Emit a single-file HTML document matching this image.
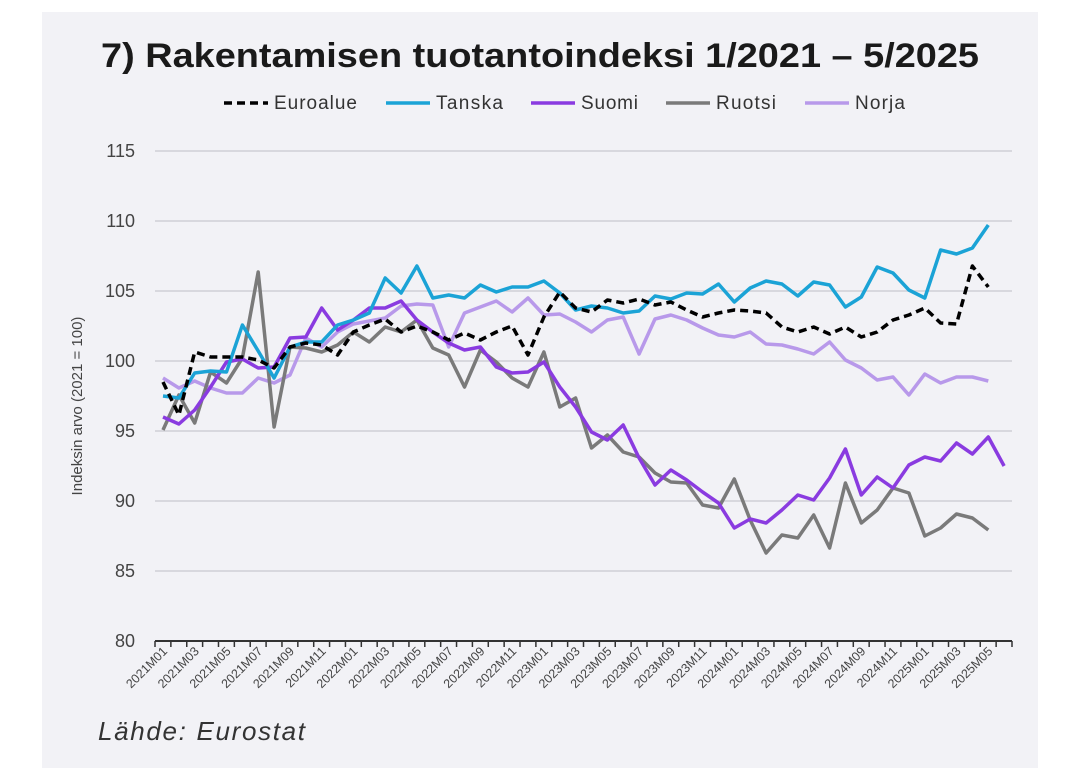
<!DOCTYPE html>
<html><head><meta charset="utf-8"><style>
html,body{margin:0;padding:0;background:#fff;}
svg{display:block;font-family:"Liberation Sans",sans-serif;}
</style></head><body>
<svg id="c" width="1073" height="781" viewBox="0 0 1073 781" xmlns="http://www.w3.org/2000/svg">
<rect x="0" y="0" width="1073" height="781" fill="#fff"/>
<rect x="42" y="12" width="996" height="756" fill="#f2f2f6"/>
<text x="101" y="67" textLength="878" lengthAdjust="spacingAndGlyphs" font-size="34" font-weight="bold" fill="#1a1a1a">7) Rakentamisen tuotantoindeksi 1/2021 – 5/2025</text>
<g font-size="19" fill="#333">
<line x1="224" y1="103" x2="268" y2="103" stroke="#000" stroke-width="3.5" stroke-dasharray="8,5"/><text x="274" y="109" textLength="83">Euroalue</text>
<line x1="386" y1="103" x2="430" y2="103" stroke="#1ba3d6" stroke-width="3.5"/><text x="436" y="109" textLength="67">Tanska</text>
<line x1="531" y1="103" x2="575" y2="103" stroke="#8a3be0" stroke-width="3.5"/><text x="581" y="109" textLength="57">Suomi</text>
<line x1="666" y1="103" x2="710" y2="103" stroke="#7a7a7a" stroke-width="3.5"/><text x="716" y="109" textLength="60">Ruotsi</text>
<line x1="805" y1="103" x2="849" y2="103" stroke="#b899ea" stroke-width="3.5"/><text x="855" y="109" textLength="50">Norja</text>
</g>
<g id="grid" stroke="#d0d0d6" stroke-width="1.5"></g>
<g id="ylab" font-size="18" fill="#444" text-anchor="end"></g>
<text transform="translate(82,406) rotate(-90)" text-anchor="middle" font-size="15" fill="#444">Indeksin arvo (2021 = 100)</text>
<line x1="155" y1="641" x2="1012" y2="641" stroke="#333" stroke-width="2"/>
<g id="ticks" stroke="#333" stroke-width="1.5"></g>
<g id="xlab" font-size="12.5" fill="#444" text-anchor="end"></g>
<g id="series" fill="none" stroke-width="3.5" stroke-linejoin="round"></g>
<text x="98" y="740" font-size="26" font-style="italic" fill="#333" textLength="207">Lähde: Eurostat</text>
</svg>
<script>
var NS="http://www.w3.org/2000/svg";
function el(t,a,p,txt){var e=document.createElementNS(NS,t);for(var k in a)e.setAttribute(k,a[k]);if(txt!=null)e.textContent=txt;document.getElementById(p).appendChild(e);return e;}
for(var v=85;v<=115;v+=5){var y=641-(v-80)*14;el("line",{x1:155,y1:y,x2:1012,y2:y},"grid");}
for(var v=80;v<=115;v+=5){var y=641-(v-80)*14;el("text",{x:135,y:y+6},"ylab",String(v));}
var step=857/54;
for(var i=0;i<=54;i++){var x=155+i*step;el("line",{x1:x,y1:641,x2:x,y2:647},"ticks");}
for(var i=0;i<54;i+=2){var yr=2021+Math.floor(i/12),m=(i%12)+1;var x=163+i*step;
el("text",{x:0,y:0,transform:"translate("+(x+5)+",652) rotate(-45)"},"xlab",yr+"M"+(m<10?"0":"")+m);}
var S={
nor:[378,388,381,388,393,393,378,383,375,338,347,332,324,321,318,306,304,305,347,313,307,301,312,298,315,314,322,332,320,317,354,319,315,320,328,335,337,332,344,345,349,354,342,360,368,380,377,395,374,383,377,377,381],
ruo:[430,395,423,372,383,358,272,427,347,348,352,345,332,342,327,332,320,348,355,387,350,362,378,387,352,407,398,448,435,452,457,473,482,483,505,508,479,520,553,535,538,515,548,483,523,510,488,493,536,528,514,518,530],
suo:[417,424,410,387,362,359,368,367,338,337,308,330,320,308,308,301,320,332,343,350,347,367,373,372,362,387,407,432,440,425,458,485,470,480,492,503,528,519,523,510,495,500,478,449,495,477,488,465,457,461,443,454,437,466],
tan:[396,398,373,371,372,325,351,378,347,342,342,325,320,313,278,293,266,298,295,298,285,292,287,287,281,293,310,306,308,313,311,296,299,293,294,284,302,288,281,284,296,282,285,307,297,267,273,290,298,250,254,248,225],
eur:[382,415,352,357,357,357,360,368,347,343,345,355,332,325,319,332,326,332,340,333,340,332,326,355,317,292,308,312,300,303,299,305,302,310,317,313,310,311,313,327,332,327,334,327,337,332,320,315,308,323,324,266,287]};
var C={nor:"#b899ea",ruo:"#7a7a7a",suo:"#8a3be0",tan:"#1ba3d6",eur:"#000"};
["nor","ruo","suo","tan","eur"].forEach(function(k){var pts=S[k].map(function(y,i){return (163+i*step).toFixed(1)+","+y;}).join(" ");
var a={points:pts,stroke:C[k]};if(k=="eur")a["stroke-dasharray"]="8,5";el("polyline",a,"series");});
</script>
</body></html>
